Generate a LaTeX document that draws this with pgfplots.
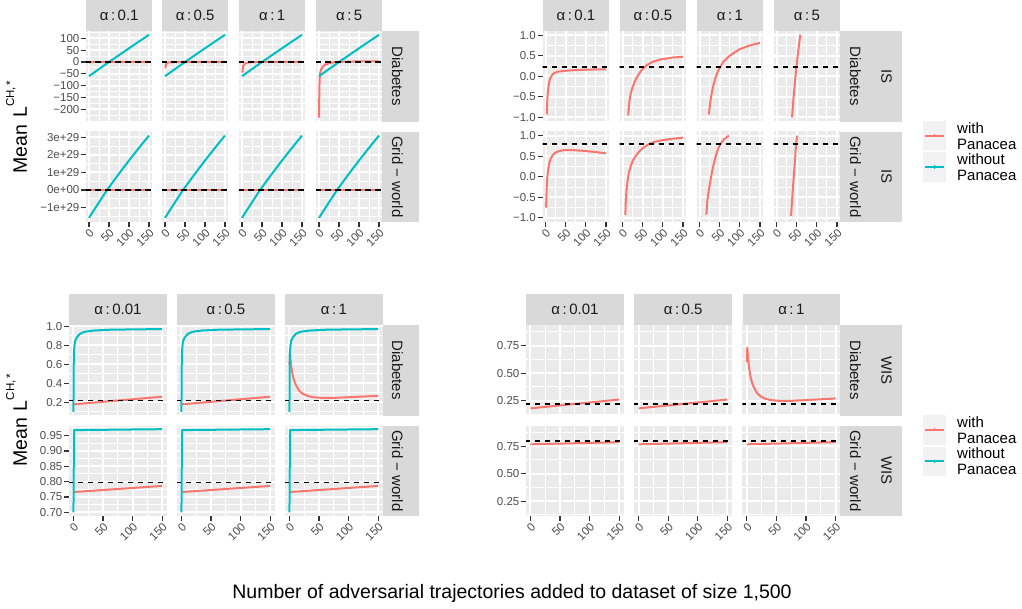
\documentclass[border=0pt]{standalone}
\usepackage{fontspec}
\setmainfont{Liberation Sans}
\usepackage{pgfplots}
\usepackage{pgfplotstable}
\pgfplotsset{compat=1.18}
\definecolor{pbg}{HTML}{EBEBEB}
\definecolor{stripbg}{HTML}{D9D9D9}
\definecolor{cred}{HTML}{F8766D}
\definecolor{cteal}{HTML}{00BFC4}
\definecolor{tickc}{HTML}{333333}
\definecolor{labc}{HTML}{4D4D4D}
\definecolor{striptxt}{HTML}{1A1A1A}
\definecolor{keybg}{HTML}{F2F2F2}
\newcommand{\tlf}{\fontsize{11.5}{13}\selectfont}
\newcommand{\stf}{\fontsize{15}{18}\selectfont}
\newcommand{\lgf}{\fontsize{15}{16}\selectfont}
\newcommand{\ttf}{\fontsize{19.5}{23}\selectfont}

\pgfplotsset{
 panel/.style={
  scale only axis, anchor=north west,
  xmin=-7.5, xmax=157.5,
  axis background/.style={fill=pbg},
  axis line style={draw=none},
  xtick={0,50,100,150}, minor xtick={25,75,125},
  xticklabels={0,50,100,150},
  xmajorgrids=true, ymajorgrids=true, xminorgrids=true, yminorgrids=true,
  major grid style={white, line width=2pt},
  minor grid style={white, line width=1pt},
  tick align=outside, tick pos=left,
  major tick length=5pt, minor tick length=0pt,
  tick style={tickc, line width=1.1pt},
  xticklabel style={font=\tlf, text=labc, rotate=45, anchor=north east, inner sep=0.5pt},
  yticklabel style={font=\tlf, text=labc, anchor=east, inner sep=1.5pt},
 },
 notx/.style={xmajorticks=false, xticklabels={}},
 noty/.style={ymajorticks=false, yticklabels={}},
 wp/.style={color=cred, line width=2pt, no markers, line join=round},
 wop/.style={color=cteal, line width=2pt, no markers, line join=round},
 ref/.style={color=black, line width=1.5pt, dash pattern=on 5.5pt off 4.5pt, no markers},
 tlD/.style={ymin=-251.5, ymax=131, ytick={-200,-150,-100,-50,0,50,100},
   yticklabels={−200,−150,−100,−50,0,50,100}, minor ytick={-225,-175,-125,-75,-25,25,75,125}},
 tlG/.style={ymin=-1.82, ymax=3.33, ytick={-1,0,1,2,3},
   yticklabels={−1e+29,0e+00,1e+29,2e+29,3e+29}, minor ytick={-1.5,-0.5,0.5,1.5,2.5}},
 tr/.style={ymin=-1.1, ymax=1.1, ytick={-1,-0.5,0,0.5,1},
   yticklabels={−1.0,−0.5,0.0,0.5,1.0}, minor ytick={-0.75,-0.25,0.25,0.75},
   restrict y to domain=-1.0:1.02},
 blD/.style={ymin=0.063, ymax=1.013, ytick={0.2,0.4,0.6,0.8,1.0},
   yticklabels={0.2,0.4,0.6,0.8,1.0}, minor ytick={0.1,0.3,0.5,0.7,0.9}},
 blG/.style={ymin=0.688, ymax=0.983, ytick={0.70,0.75,0.80,0.85,0.90,0.95},
   yticklabels={0.70,0.75,0.80,0.85,0.90,0.95}, minor ytick={0.725,0.775,0.825,0.875,0.925,0.975}},
 br/.style={ymin=0.115, ymax=0.937, ytick={0.25,0.5,0.75},
   yticklabels={0.25,0.50,0.75}, minor ytick={0.125,0.375,0.625,0.875}},
}

% ---------- data ----------
\pgfplotstableread{
x y
0 -60
50 0
100 58
150 115
}\TDteal
\pgfplotstableread{
x y
0 -1.58
25 -0.7
45 0
75 0.93
100 1.68
125 2.4
150 3.1
}\TGteal
\pgfplotstableread{
x y
0 -5
1 -2.6
2 -1.5
3 -0.93
4 -0.65
5 -0.48
6 -0.36
8 -0.2
10 -0.1
13 -0.02
17 0.04
22 0.08
30 0.11
45 0.13
75 0.15
100 0.16
150 0.17
}\Da
\pgfplotstableread{
x y
1 -27
2 -13
3 -8
5 -4.5
8 -2.3
11 -1.4
14 -0.95
15 -0.82
17 -0.62
20 -0.44
25 -0.26
30 -0.14
36 -0.02
43 0.09
50 0.18
60 0.27
75 0.35
95 0.41
125 0.455
150 0.475
}\Db
\pgfplotstableread{
x y
1 -45
2 -25
3 -17
5 -10
8 -6
12 -3.5
16 -2.2
20 -1.4
23 -0.93
27 -0.6
31 -0.37
35 -0.2
40 -0.02
45 0.1
51 0.22
60 0.36
75 0.5
100 0.66
125 0.75
150 0.81
}\Dc
\pgfplotstableread{
x y
0 -235
1 -100
2 -60
3 -45
5 -33
7 -26
10 -19
14 -13
19 -8.5
25 -5.2
30 -3.4
35 -1.9
38.5 -1.0
42 -0.55
46 -0.12
49 0.2
53 0.55
57 0.86
59 1.01
65 1.35
80 1.9
100 2.4
125 2.75
150 3.0
}\Dd
\pgfplotstableread{
x y
1.5 -0.75
2.2 -0.45
3 -0.24
4 -0.05
5.5 0.08
7 0.2
9.5 0.33
13 0.44
18 0.53
25 0.59
34 0.625
45 0.645
60 0.65
80 0.64
100 0.625
125 0.6
150 0.57
}\Ga
\pgfplotstableread{
x y
7 -0.93
8 -0.62
9.5 -0.38
11.5 -0.17
14 0.0
17 0.14
21 0.28
26 0.4
33 0.51
42 0.62
52 0.71
65 0.79
80 0.85
100 0.89
125 0.925
150 0.95
}\Gb
\pgfplotstableread{
x y
17 -0.92
19 -0.62
21 -0.45
23 -0.33
27 -0.1
31 0.12
35 0.3
40 0.5
45 0.65
50 0.76
55 0.84
60 0.9
67 0.96
73 1.0
}\Gc
\pgfplotstableread{
x y
36 -0.95
39 -0.52
42 -0.1
45 0.3
48 0.72
50 0.9
51.5 1.0
}\Gd
\pgfplotstableread{
x y
0 0.10
0.3 0.45
0.6 0.65
1 0.74
2 0.81
3 0.845
5 0.875
8 0.9
11 0.92
16 0.935
22 0.945
35 0.955
60 0.963
100 0.967
150 0.97
}\WDteal
\pgfplotstableread{
x y
0 0.18
75 0.22
150 0.26
}\WDred
\pgfplotstableread{
x y
0 0.6
0.7 0.73
2 0.63
4 0.54
6 0.47
9 0.41
12 0.37
17 0.32
23 0.29
30 0.27
40 0.255
55 0.248
75 0.248
100 0.255
125 0.262
150 0.27
}\WDredc
\pgfplotstableread{
x y
0 0.70
1 0.968
150 0.971
}\WGteal
\pgfplotstableread{
x y
0 0.766
150 0.786
}\WGred

\newcommand{\pnl}[5]{%
\begin{axis}[panel,#4,at={(#1pt,-#2pt)},width=#3pt,height=90.5pt]
#5
\end{axis}}
\newcommand{\tstrip}[4]{\node[fill=stripbg, inner sep=0pt, minimum width=#3pt, minimum height=31pt, anchor=north west, font=\stf, text=striptxt] at (#1pt,-#2pt) {#4};}
\newcommand{\rbox}[3]{\node[fill=stripbg, inner sep=0pt, minimum width=#3pt, minimum height=90.5pt, anchor=north west] at (#1pt,-#2pt) {};}
\newcommand{\rtxt}[3]{\node[rotate=-90, font=\stf, text=striptxt, inner sep=0pt] at (#1pt,-#2pt) {#3};}
\newcommand{\refD}{\addplot[ref] coordinates {(-10,0.22) (160,0.22)};}
\newcommand{\refG}{\addplot[ref] coordinates {(-10,0.798) (160,0.798)};}
\newcommand{\legend}[1]{% #1 = top y of first key
\fill[keybg] (923pt,-#1pt) rectangle (946pt,{-(#1+29.5)*1pt});
\fill[keybg] (923pt,{-(#1+31.5)*1pt}) rectangle (946pt,{-(#1+61)*1pt});
\draw[draw=cred, line width=2pt] (925pt,{-(#1+14.7)*1pt}) -- (944pt,{-(#1+14.7)*1pt});
\draw[draw=cred, line width=0.8pt] (934.5pt,{-(#1+13)*1pt}) -- (934.5pt,{-(#1+16.4)*1pt});
\draw[draw=cteal, line width=2pt] (925pt,{-(#1+46.2)*1pt}) -- (944pt,{-(#1+46.2)*1pt});
\draw[draw=cteal, line width=0.8pt] (934.5pt,{-(#1+44.5)*1pt}) -- (934.5pt,{-(#1+47.9)*1pt});
\node[anchor=west, align=left, font=\lgf, inner sep=0pt] at (957pt,{-(#1+14.7)*1pt}) {with\\Panacea};
\node[anchor=west, align=left, font=\lgf, inner sep=0pt] at (957pt,{-(#1+46.2)*1pt}) {without\\Panacea};
}

\begin{document}
\begin{tikzpicture}
\useasboundingbox (0pt,0pt) rectangle (1022pt,-609pt);

% ================= TOP LEFT (IS) =================
\pnl{86}{31}{66}{tlD,notx}{\addplot[wp] table {\Da}; \addplot[wop] table {\TDteal}; \addplot[ref] coordinates {(-10,0.22) (160,0.22)};}
\pnl{162}{31}{66}{tlD,notx,noty}{\addplot[wp] table {\Db}; \addplot[wop] table {\TDteal}; \addplot[ref] coordinates {(-10,0.22) (160,0.22)};}
\pnl{239}{31}{66}{tlD,notx,noty}{\addplot[wp] table {\Dc}; \addplot[wop] table {\TDteal}; \addplot[ref] coordinates {(-10,0.22) (160,0.22)};}
\pnl{316}{31}{66}{tlD,notx,noty}{\addplot[wp] table {\Dd}; \addplot[wop] table {\TDteal}; \addplot[ref] coordinates {(-10,0.22) (160,0.22)};}
\pnl{86}{131.5}{66}{tlG}{\addplot[wp] coordinates {(0,0) (150,0)}; \addplot[wop] table {\TGteal}; \addplot[ref] coordinates {(-10,0) (160,0)};}
\pnl{162}{131.5}{66}{tlG,noty}{\addplot[wp] coordinates {(0,0) (150,0)}; \addplot[wop] table {\TGteal}; \addplot[ref] coordinates {(-10,0) (160,0)};}
\pnl{239}{131.5}{66}{tlG,noty}{\addplot[wp] coordinates {(0,0) (150,0)}; \addplot[wop] table {\TGteal}; \addplot[ref] coordinates {(-10,0) (160,0)};}
\pnl{316}{131.5}{66}{tlG,noty}{\addplot[wp] coordinates {(0,0) (150,0)}; \addplot[wop] table {\TGteal}; \addplot[ref] coordinates {(-10,0) (160,0)};}
\tstrip{86}{0}{66}{α\,:\,0.1}
\tstrip{162}{0}{66}{α\,:\,0.5}
\tstrip{239}{0}{66}{α\,:\,1}
\tstrip{316}{0}{66}{α\,:\,5}
\rbox{382}{31}{37}
\rbox{382}{131.5}{37}
\rtxt{397.5}{76.25}{Diabetes}
\rtxt{397.5}{176.75}{Grid − world}

% ================= TOP RIGHT (IS, with Panacea) =================
\pnl{542.5}{31}{66.5}{tr,notx}{\addplot[wp] table {\Da}; \refD}
\pnl{619.5}{31}{66.5}{tr,notx,noty}{\addplot[wp] table {\Db}; \refD}
\pnl{696.5}{31}{66.5}{tr,notx,noty}{\addplot[wp] table {\Dc}; \refD}
\pnl{773.5}{31}{66.5}{tr,notx,noty}{\addplot[wp] table {\Dd}; \refD}
\pnl{542.5}{131.5}{66.5}{tr}{\addplot[wp] table {\Ga}; \refG}
\pnl{619.5}{131.5}{66.5}{tr,noty}{\addplot[wp] table {\Gb}; \refG}
\pnl{696.5}{131.5}{66.5}{tr,noty}{\addplot[wp] table {\Gc}; \refG}
\pnl{773.5}{131.5}{66.5}{tr,noty}{\addplot[wp] table {\Gd}; \refG}
\tstrip{542.5}{0}{66.5}{α\,:\,0.1}
\tstrip{619.5}{0}{66.5}{α\,:\,0.5}
\tstrip{696.5}{0}{66.5}{α\,:\,1}
\tstrip{773.5}{0}{66.5}{α\,:\,5}
\rbox{840}{31}{62}
\rbox{840}{131.5}{62}
\rtxt{855.5}{76.25}{Diabetes}
\rtxt{886.5}{76.25}{IS}
\rtxt{855.5}{176.75}{Grid − world}
\rtxt{886.5}{176.75}{IS}

% ================= BOTTOM LEFT (WIS) =================
\pnl{69}{325}{97.5}{blD,notx}{\addplot[wp] table {\WDred}; \addplot[wop] table {\WDteal}; \refD}
\pnl{177}{325}{97.5}{blD,notx,noty}{\addplot[wp] table {\WDred}; \addplot[wop] table {\WDteal}; \refD}
\pnl{285}{325}{97.5}{blD,notx,noty}{\addplot[wp] table {\WDredc}; \addplot[wop] table {\WDteal}; \refD}
\pnl{69}{425.5}{97.5}{blG}{\addplot[wp] table {\WGred}; \addplot[wop] table {\WGteal}; \refG}
\pnl{177}{425.5}{97.5}{blG,noty}{\addplot[wp] table {\WGred}; \addplot[wop] table {\WGteal}; \refG}
\pnl{285}{425.5}{97.5}{blG,noty}{\addplot[wp] table {\WGred}; \addplot[wop] table {\WGteal}; \refG}
\tstrip{69}{294}{97.5}{α\,:\,0.01}
\tstrip{177}{294}{97.5}{α\,:\,0.5}
\tstrip{285}{294}{97.5}{α\,:\,1}
\rbox{382.5}{325}{36.5}
\rbox{382.5}{425.5}{36.5}
\rtxt{397.5}{370.25}{Diabetes}
\rtxt{397.5}{470.75}{Grid − world}

% ================= BOTTOM RIGHT (WIS, with Panacea) =================
\pnl{526}{325}{97.6}{br,notx}{\addplot[wp] table {\WDred}; \refD}
\pnl{634.2}{325}{97.6}{br,notx,noty}{\addplot[wp] table {\WDred}; \refD}
\pnl{742.4}{325}{97.6}{br,notx,noty}{\addplot[wp] table {\WDredc}; \refD}
\pnl{526}{425.5}{97.6}{br}{\addplot[wp] table {\WGred}; \refG}
\pnl{634.2}{425.5}{97.6}{br,noty}{\addplot[wp] table {\WGred}; \refG}
\pnl{742.4}{425.5}{97.6}{br,noty}{\addplot[wp] table {\WGred}; \refG}
\tstrip{526}{294}{97.6}{α\,:\,0.01}
\tstrip{634.2}{294}{97.6}{α\,:\,0.5}
\tstrip{742.4}{294}{97.6}{α\,:\,1}
\rbox{840}{325}{62}
\rbox{840}{425.5}{62}
\rtxt{855.5}{370.25}{Diabetes}
\rtxt{886.5}{370.25}{WIS}
\rtxt{855.5}{470.75}{Grid − world}
\rtxt{886.5}{470.75}{WIS}

% ================= legends =================
\legend{121}
\legend{415}

% ================= titles =================
\node[rotate=90, anchor=base, font=\ttf, inner sep=0pt] at (27pt,-127pt) {Mean\hspace{7pt}L\raisebox{13pt}{\fontsize{11.5}{12}\selectfont CH,\,*}};
\node[rotate=90, anchor=base, font=\ttf, inner sep=0pt] at (27pt,-420.5pt) {Mean\hspace{7pt}L\raisebox{13pt}{\fontsize{11.5}{12}\selectfont CH,\,*}};
\node[anchor=base, font=\ttf, inner sep=0pt] at (512pt,-598pt) {Number of adversarial trajectories added to dataset of size 1,500};
\end{tikzpicture}
\end{document}
